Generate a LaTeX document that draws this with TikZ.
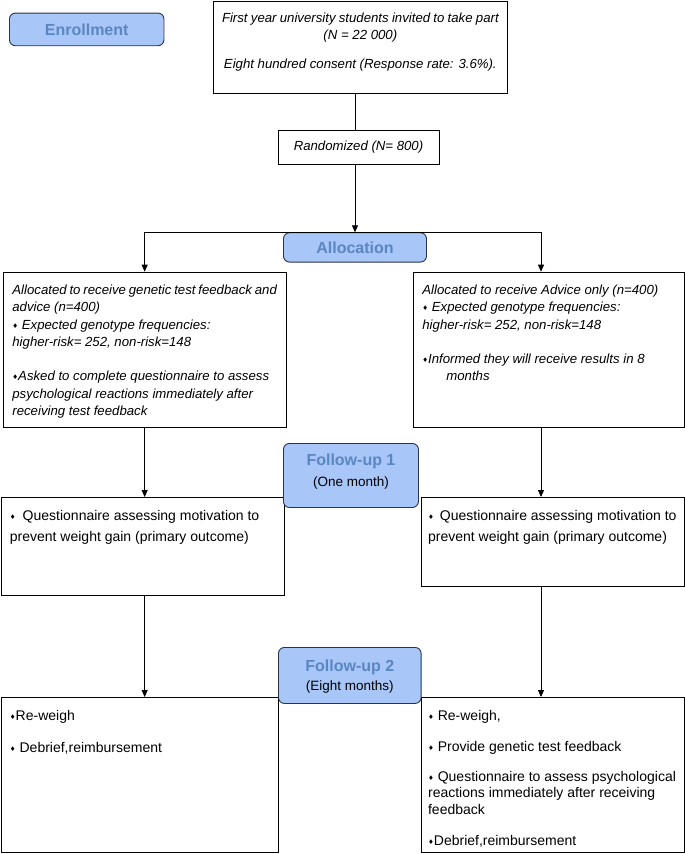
\documentclass[tikz,border=0pt]{standalone}
\usepackage{fontspec}
\setmainfont{Liberation Sans}
\newfontfamily\symfont{DejaVu Sans}
\usetikzlibrary{arrows.meta,positioning}
\definecolor{stagefill}{HTML}{A9C6F8}
\definecolor{stageline}{HTML}{2A3347}
\definecolor{stagetext}{HTML}{5A86C2}
\newcommand{\dia}{\raisebox{1pt}{\symfont\fontsize{6.5}{6.5}\selectfont ♦}}
\newcommand{\cell}[4]{\parbox[c][#2][t]{#1}{\rule{0pt}{#3}#4}}
\tikzset{arr/.style={-{Triangle[length=7pt,width=6pt]},line width=0.8pt},
  link/.style={line width=0.8pt},
  panel/.style={draw,line width=0.8pt,anchor=north west,inner xsep=9pt,inner ysep=0pt,align=left},
  stage/.style={draw=stageline,fill=stagefill,line width=0.9pt,rounded corners=6pt,inner sep=0pt,
    font=\bfseries\fontsize{16}{19}\selectfont,text=stagetext},
  ital/.style={font=\itshape\fontsize{13.2}{17.3}\selectfont},
  upright/.style={font=\fontsize{14}{20.5}\selectfont},
  tight/.style={font=\fontsize{14}{16.3}\selectfont}}

\begin{document}
\begin{tikzpicture}[x=1pt,y=-1pt]
\useasboundingbox (0,0) rectangle (685,854);
\coordinate (rcol) at (541,0);
% enrollment
\node[stage,minimum width=154.5pt,minimum height=32.7pt] (enrol) at (86.7,29.4) {Enrollment};
\node[panel,ital] (invite) at (212.6,0.5) {\cell{276.7pt}{92.2pt}{21.5pt}{\centering First year university students invited to take part\\(N = 22 000)\\[11pt]Eight hundred consent (Response rate: 3.6\%).}};
\node[draw,line width=0.8pt,ital,inner sep=0pt,minimum width=161pt,minimum height=34pt] (rand) at (358.5,147) {Randomized (N= 800)};
% allocation
\node[stage,minimum width=143pt,minimum height=29.3pt] (alloc) at (355,247.4) {Allocation};
\node[panel,ital] (gt1) at (3,271.7) {\cell{264.5pt}{155pt}{22.3pt}{Allocated to receive genetic test feedback and\\advice (n=400)\\\dia\ Expected genotype frequencies:\\higher-risk= 252, non-risk=148\\[17.3pt]\dia Asked to complete questionnaire to assess\\psychological reactions immediately after\\receiving test feedback}};
\node[panel,ital] (adv1) at (413,271.7) {\cell{253pt}{155pt}{22.3pt}{Allocated to receive Advice only (n=400)\\\dia\ Expected genotype frequencies:\\higher-risk= 252, non-risk=148\\[17.3pt]\dia Informed they will receive results in 8\\\hspace*{24pt}months}};
% follow-up 1
\node[panel,upright] (gt2) at (0.5,497) {\cell{265.2pt}{98pt}{23.5pt}{\dia\hspace{7pt}Questionnaire assessing motivation to\\prevent weight gain (primary outcome)}};
\node[panel,upright,inner xsep=7pt] (adv2) at (420.7,497) {\cell{249.3pt}{89pt}{23.5pt}{\dia\hspace{6pt}Questionnaire assessing motivation to\\prevent weight gain (primary outcome)}};
\node[stage,anchor=north west,font=\fontsize{13.5}{21}\selectfont,text=black] (fu1) at (283,443) {\cell{135pt}{64pt}{22.5pt}{\centering{\bfseries\fontsize{16}{19}\selectfont\color{stagetext}Follow-up 1}\\(One month)}};
% follow-up 2
\node[panel,tight] (gt3) at (0.5,697) {\cell{259.9pt}{155pt}{23.5pt}{\dia Re-weigh\\[15.7pt]\dia\ Debrief,reimbursement}};
\node[panel,tight,inner xsep=7pt] (adv3) at (420.7,697) {\cell{249.3pt}{155pt}{23.5pt}{\dia\ Re-weigh,\\[14pt]\dia\ Provide genetic test feedback\\[14pt]\dia\ Questionnaire to assess psychological\\reactions immediately after receiving\\feedback\\[14.7pt]\dia Debrief,reimbursement}};
\node[stage,anchor=north west,font=\fontsize{13.5}{19}\selectfont,text=black] (fu2) at (278,647) {\cell{142.7pt}{56pt}{24.5pt}{\centering{\bfseries\fontsize{16}{19}\selectfont\color{stagetext}Follow-up 2}\\(Eight months)}};
% connectors
\draw[link] (invite.south -| alloc.north) -- (rand.north -| alloc.north);
\draw[arr] (rand.south -| alloc.north) -- (alloc.north);
\draw[arr] (alloc.north) -| (gt1.north);
\draw[arr] (alloc.north) -| (adv1.north -| rcol);
\draw[arr] (gt1.south) -- (gt1.south |- gt2.north);
\draw[arr] (gt1.south |- gt2.south) -- (gt1.south |- gt3.north);
\draw[arr] (adv1.south -| rcol) -- (adv2.north -| rcol);
\draw[arr] (adv2.south -| rcol) -- (adv3.north -| rcol);
\end{tikzpicture}
\end{document}
